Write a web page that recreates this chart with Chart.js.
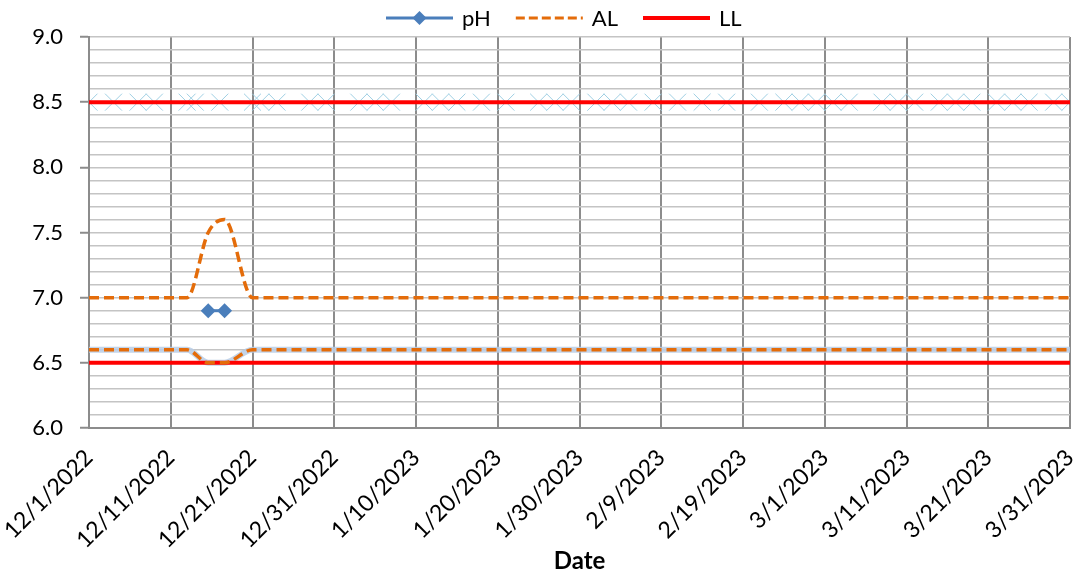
<!DOCTYPE html>
<html>
<head>
<meta charset="utf-8">
<script src="https://cdn.jsdelivr.net/npm/chart.js@4"></script>
<style>
  html, body { margin: 0; padding: 0; background: #fff; }
  #wrap { width: 1083px; height: 578px; }
</style>
</head>
<body>
<div id="wrap"><canvas id="myChart" width="1083" height="578"></canvas></div>
<script>
const tickLabels = [
  "12/1/2022", "12/11/2022", "12/21/2022", "12/31/2022", "1/10/2023", "1/20/2023", "1/30/2023",
  "2/9/2023", "2/19/2023", "3/1/2023", "3/11/2023", "3/21/2023", "3/31/2023",
];

// pH readings
const phDates = ["2022-12-15T14:00", "2022-12-17T14:00"];
const phValues = [6.9, 6.9];

// action limits (upper / lower)
const alDates = ["2022-12-01", "2022-12-12", "2022-12-13", "2022-12-15T14:00", "2022-12-17T14:00", "2022-12-21", "2022-12-22", "2023-03-31"];
const alUpper = [7.0, 7.0, 7.0, 7.5, 7.6, 7.0, 7.0, 7.0];
const alLower = [6.6, 6.6, 6.6, 6.5, 6.5, 6.6, 6.6, 6.6];

// limit lines
const llDates = ["2022-12-01", "2023-03-31"];
const llUpper = [8.5, 8.5];
const llLower = [6.5, 6.5];

// faint marker series sitting on the 8.5 line
const markDates = [
  "2022-12-01", "2022-12-04", "2022-12-07", "2022-12-09", "2022-12-13", "2022-12-14", "2022-12-17",
  "2022-12-21", "2022-12-22", "2022-12-24", "2022-12-28", "2022-12-30", "2023-01-03", "2023-01-05",
  "2023-01-07", "2023-01-11", "2023-01-13", "2023-01-15", "2023-01-18", "2023-01-21", "2023-01-25",
  "2023-01-27", "2023-01-29", "2023-02-01", "2023-02-03", "2023-02-05", "2023-02-08", "2023-02-11",
  "2023-02-14", "2023-02-17", "2023-02-21", "2023-02-24", "2023-02-26", "2023-02-28", "2023-03-02",
  "2023-03-04", "2023-03-08", "2023-03-10", "2023-03-12", "2023-03-15", "2023-03-17", "2023-03-19",
  "2023-03-22", "2023-03-24", "2023-03-26", "2023-03-29", "2023-03-31",
];
const markValues = [
  8.5, 8.5, 8.5, 8.5, 8.5, 8.5, 8.5, 8.5, 8.5, 8.5, 8.5, 8.5, 8.5, 8.5, 8.5, 8.5,
  8.5, 8.5, 8.5, 8.5, 8.5, 8.5, 8.5, 8.5, 8.5, 8.5, 8.5, 8.5, 8.5, 8.5, 8.5, 8.5,
  8.5, 8.5, 8.5, 8.5, 8.5, 8.5, 8.5, 8.5, 8.5, 8.5, 8.5, 8.5, 8.5, 8.5, 8.5,
];

const family = "Lato, 'Open Sans', sans-serif";
const start = Date.UTC(2022, 11, 1);

// days since 12/1/2022
function dayOf(s) {
  const [d, t] = s.split("T");
  const [y, m, dd] = d.split("-").map(Number);
  const [hh, mm] = (t || "0:0").split(":").map(Number);
  return (Date.UTC(y, m - 1, dd, hh, mm) - start) / 86400000;
}
const pts = (dates, vals) => dates.map((d, i) => ({ x: dayOf(d), y: vals[i] }));

const legendItems = [
  { text: "pH", color: "#4A7EBB", width: 3, dash: [], marker: true },
  { text: "AL", color: "#E46C0A", width: 3, dash: [9, 4], marker: false },
  { text: "LL", color: "#FF0000", width: 4, dash: [], marker: false },
];

const legendPlugin = {
  id: "excelLegend",
  afterDraw(chart) {
    const ctx = chart.ctx;
    ctx.save();
    ctx.font = "22px " + family;
    ctx.textBaseline = "middle";
    let x = 386;
    const y = 18;
    legendItems.forEach((it) => {
      ctx.beginPath();
      ctx.setLineDash(it.dash);
      ctx.strokeStyle = it.color;
      ctx.lineWidth = it.width;
      ctx.moveTo(x, y);
      ctx.lineTo(x + 67, y);
      ctx.stroke();
      ctx.setLineDash([]);
      if (it.marker) {
        const cx = x + 33.5;
        ctx.beginPath();
        ctx.fillStyle = it.color;
        ctx.moveTo(cx, y - 7);
        ctx.lineTo(cx + 7, y);
        ctx.lineTo(cx, y + 7);
        ctx.lineTo(cx - 7, y);
        ctx.closePath();
        ctx.fill();
      }
      ctx.fillStyle = "#000";
      ctx.fillText(it.text, x + 76, y + 1);
      x += 76 + ctx.measureText(it.text).width + 25;
    });
    ctx.restore();
  },
};

const data = {
  datasets: [
    {
      label: "pH",
      data: pts(phDates, phValues),
      borderColor: "#4A7EBB",
      backgroundColor: "#4A7EBB",
      borderWidth: 3,
      pointStyle: "rectRot",
      pointRadius: 7.5,
      pointBorderWidth: 0,
    },
    {
      label: "AL",
      data: pts(alDates, alUpper),
      borderColor: "#E46C0A",
      borderWidth: 3.5,
      borderDash: [10, 5],
      cubicInterpolationMode: "monotone",
      pointRadius: 0,
    },
    {
      label: "AL lower",
      data: pts(alDates, alLower),
      borderColor: "#E46C0A",
      borderWidth: 3.5,
      borderDash: [10, 5],
      cubicInterpolationMode: "monotone",
      pointRadius: 0,
    },
    {
      label: "LL",
      data: pts(llDates, llUpper),
      borderColor: "#FF0000",
      borderWidth: 4,
      pointRadius: 0,
    },
    {
      label: "LL lower",
      data: pts(llDates, llLower),
      borderColor: "#FF0000",
      borderWidth: 4,
      pointRadius: 0,
    },
    {
      label: "shade",
      data: pts(alDates, alLower),
      borderColor: "rgba(185, 205, 229, 0.85)",
      borderWidth: 6,
      cubicInterpolationMode: "monotone",
      pointRadius: 0,
    },
    {
      label: "marks",
      data: pts(markDates, markValues),
      showLine: false,
      pointStyle: "crossRot",
      pointRadius: 12,
      pointBorderWidth: 1,
      pointBorderColor: "#9FCFE3",
    },
  ],
};

const config = {
  type: "line",
  data: data,
  options: {
    responsive: false,
    animation: false,
    devicePixelRatio: 1,
    layout: { padding: { top: 37, right: 12, left: 0, bottom: 0 } },
    plugins: { legend: { display: false }, tooltip: { enabled: false } },
    scales: {
      x: {
        type: "linear",
        min: 0,
        max: 120,
        ticks: {
          stepSize: 10,
          autoSkip: false,
          minRotation: 45,
          maxRotation: 45,
          padding: 16,
          color: "#000",
          font: { family: family, size: 23 },
          callback: (v) => tickLabels[Math.round(v / 10)],
        },
        grid: { color: "#8C8C8C", lineWidth: 2, drawTicks: false },
        border: { color: "#8C8C8C", width: 2 },
        title: {
          display: true,
          text: "Date",
          color: "#000",
          font: { family: family, size: 24, weight: "bold" },
          padding: { top: 0, bottom: 2 },
        },
        afterFit: (s) => {
          s.height = 150;
          s.paddingLeft = 0;
          s.paddingRight = 0;
        },
      },
      y: {
        min: 6,
        max: 9,
        ticks: {
          stepSize: 0.1,
          autoSkip: false,
          padding: 17,
          color: "#000",
          font: { family: family, size: 22 },
          callback: (v) => (Math.round(v * 10) % 5 === 0 ? v.toFixed(1) : ""),
        },
        grid: {
          color: "#C4C4C4",
          lineWidth: 1.5,
          tickLength: 9,
          tickWidth: 2,
          tickColor: (c) => (c.tick && Math.round(c.tick.value * 10) % 5 === 0 ? "#8C8C8C" : "rgba(0,0,0,0)"),
        },
        border: { color: "#8C8C8C", width: 2 },
        afterFit: (s) => { s.width = 89; },
      },
    },
  },
  plugins: [legendPlugin],
};

var myChart = new Chart(document.getElementById("myChart"), config);
</script>
</body>
</html>
